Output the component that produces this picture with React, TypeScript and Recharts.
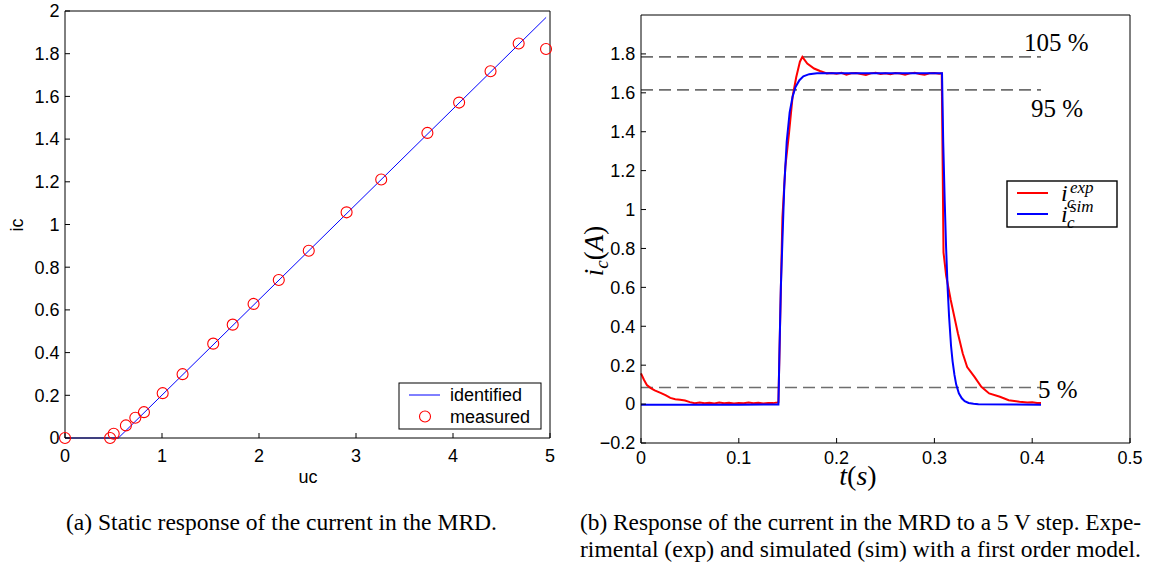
import React from 'react';
import { ComposedChart, Line, Scatter, XAxis, YAxis, ReferenceLine } from 'recharts';

// ---------- (a) static response ----------
const ucMeasured = [0, 0.465, 0.502, 0.628, 0.725, 0.814, 1.007, 1.212, 1.528, 1.729, 1.944, 2.204, 2.513, 2.903, 3.26, 3.736, 4.063, 4.387, 4.677, 4.959];
const icMeasured = [0, 0, 0.02, 0.059, 0.095, 0.121, 0.21, 0.299, 0.442, 0.531, 0.628, 0.74, 0.877, 1.057, 1.211, 1.429, 1.571, 1.718, 1.848, 1.822];
const ucIdentified = [0, 0.55, 4.96];
const icIdentified = [0, 0, 1.97];
const staticXTicks = [0, 1, 2, 3, 4, 5];
const staticYTicks = [0, 0.2, 0.4, 0.6, 0.8, 1, 1.2, 1.4, 1.6, 1.8, 2];

// ---------- (b) step response ----------
const tExp = [
  0, 0.003, 0.006, 0.01, 0.014, 0.02, 0.025, 0.03, 0.035, 0.04, 0.045, 0.05, 0.055, 0.06, 0.065, 0.07,
  0.075, 0.08, 0.085, 0.09, 0.095, 0.1, 0.105, 0.11, 0.115, 0.12, 0.125, 0.13, 0.135, 0.1395, 0.1405,
  0.142, 0.1446, 0.1476, 0.1513, 0.155, 0.1587, 0.1625, 0.165, 0.17, 0.177, 0.183, 0.19,
  0.195, 0.2, 0.205, 0.21, 0.215, 0.22, 0.225, 0.23, 0.235, 0.24, 0.245, 0.25, 0.255, 0.26, 0.265,
  0.27, 0.275, 0.28, 0.285, 0.29, 0.295, 0.3, 0.305, 0.3075,
  0.3085, 0.3093, 0.312, 0.3167, 0.324, 0.329, 0.3335, 0.341, 0.348, 0.356, 0.367, 0.376, 0.387,
  0.395, 0.4, 0.405, 0.409,
];
const iExp = [
  0.158, 0.125, 0.098, 0.082, 0.07, 0.058, 0.046, 0.032, 0.025, 0.022, 0.018, 0.01, 0.005, 0.008, 0.004, 0.007,
  0.003, 0.008, 0.004, 0.007, 0.003, 0.006, 0.004, 0.008, 0.004, 0.007, 0.003, 0.006, 0.005, 0.008, 0.01,
  0.36, 0.96, 1.22, 1.39, 1.58, 1.68, 1.76, 1.785, 1.75, 1.725, 1.712, 1.7,
  1.702, 1.698, 1.703, 1.693, 1.7, 1.702, 1.697, 1.692, 1.7, 1.703, 1.697, 1.7, 1.695, 1.702, 1.699,
  1.693, 1.7, 1.703, 1.697, 1.693, 1.7, 1.702, 1.698, 1.7,
  1.2, 0.78, 0.66, 0.535, 0.364, 0.26, 0.19, 0.14, 0.089, 0.055, 0.038, 0.02, 0.012,
  0.008, 0.01, 0.006, 0.005,
];
const tSim = [
  0, 0.05, 0.1, 0.1405, 0.1415, 0.143, 0.145, 0.1465, 0.149, 0.152, 0.155, 0.158, 0.162, 0.166, 0.172, 0.18,
  0.25, 0.3078, 0.309, 0.3105, 0.312, 0.3135, 0.315, 0.317, 0.3186, 0.3205, 0.3223, 0.325, 0.328, 0.331,
  0.335, 0.34, 0.345, 0.409,
];
const iSim = [
  -0.003, -0.003, -0.003, -0.002, 0.25, 0.6, 0.9, 1.12, 1.35, 1.5, 1.58, 1.63, 1.665, 1.685, 1.696, 1.7,
  1.7, 1.7, 1.35, 1.05, 0.8, 0.6, 0.45, 0.3, 0.22, 0.15, 0.1, 0.055, 0.03, 0.015,
  0.006, 0.002, -0.001, -0.003,
];
const stepXTicks = [0, 0.1, 0.2, 0.3, 0.4, 0.5];
const stepYTicks = [-0.2, 0, 0.2, 0.4, 0.6, 0.8, 1, 1.2, 1.4, 1.6, 1.8];
const levelValues = [1.785, 1.615, 0.085];
const levelLabels = ['105 %', '95 %', '5 %'];
const levelEnd = 0.409;

const captionA = '(a)  Static response of the current in the MRD.';
const captionB1 = '(b)  Response of the current in the MRD to a 5 V step. Expe-';
const captionB2 = 'rimental (exp) and simulated (sim) with a first order model.';

const measuredData = ucMeasured.map((x, i) => ({ x, y: icMeasured[i] }));
const identifiedData = ucIdentified.map((x, i) => ({ x, y: icIdentified[i] }));
const expData = tExp.map((x, i) => ({ x, y: iExp[i] }));
const simData = tSim.map((x, i) => ({ x, y: iSim[i] }));

const sans = 'Liberation Sans, Arial, Helvetica, sans-serif';
const serif = 'Liberation Serif, Times New Roman, serif';
const tickStyle = { fill: '#000', fontSize: 18, fontFamily: sans };
const fmt = (v: number) => (v < 0 ? '\u2212' + String(-v) : String(v));

const Circle = (props: any) => (
  <circle cx={props.cx} cy={props.cy} r={5.5} stroke="#ff0000" strokeWidth={1.1} fill="none" />
);

function StaticChart() {
  return (
    <ComposedChart width={570} height={500} margin={{ top: 11, right: 20, bottom: 22, left: 0 }}>
      <XAxis dataKey="x" type="number" domain={[0, 5]} ticks={staticXTicks} interval={0}
        tickSize={-5} tickMargin={16} stroke="#000" tick={tickStyle} height={40} tickFormatter={fmt} />
      <XAxis xAxisId="top" orientation="top" mirror dataKey="x" type="number" domain={[0, 5]} ticks={staticXTicks}
        interval={0} tickSize={5} stroke="#000" tick={false} height={1} />
      <YAxis type="number" domain={[0, 2]} ticks={staticYTicks} interval={0} tickSize={-5} tickMargin={10.5}
        stroke="#000" tick={tickStyle} width={65} tickFormatter={fmt} />
      <YAxis yAxisId="right" orientation="right" mirror type="number" domain={[0, 2]} ticks={staticYTicks}
        interval={0} tickSize={5} stroke="#000" tick={false} width={1} />
      <Line data={identifiedData} dataKey="y" type="linear" stroke="#0000ff" strokeWidth={1}
        dot={false} isAnimationActive={false} />
      <Scatter data={measuredData} dataKey="y" shape={Circle} isAnimationActive={false} />
    </ComposedChart>
  );
}

function StepChart() {
  return (
    <ComposedChart width={569} height={500} margin={{ top: 15, right: 19, bottom: 17, left: 0 }}>
      <XAxis dataKey="x" type="number" domain={[0, 0.5]} ticks={stepXTicks} interval={0}
        tickSize={-5} tickMargin={13} stroke="#000" tick={tickStyle} height={40} tickFormatter={fmt} />
      <XAxis xAxisId="top" orientation="top" mirror dataKey="x" type="number" domain={[0, 0.5]} ticks={stepXTicks}
        interval={0} tickSize={5} stroke="#000" tick={false} height={1} />
      <YAxis type="number" domain={[-0.2, 2]} ticks={stepYTicks} interval={0} tickSize={-5} tickMargin={10.8}
        stroke="#000" tick={tickStyle} width={61} tickFormatter={fmt} />
      <YAxis yAxisId="right" orientation="right" mirror type="number" domain={[-0.2, 2]} ticks={stepYTicks}
        interval={0} tickSize={5} stroke="#000" tick={false} width={1} />
      {levelValues.map((v) => (
        <ReferenceLine key={v} segment={[{ x: 0, y: v }, { x: levelEnd, y: v }]} stroke="#6e6e6e"
          strokeWidth={1.6} strokeDasharray="12 6" />
      ))}
      <Line data={expData} dataKey="y" type="linear" stroke="#ff0000" strokeWidth={2}
        dot={false} isAnimationActive={false} />
      <Line data={simData} dataKey="y" type="linear" stroke="#0000ff" strokeWidth={2}
        dot={false} isAnimationActive={false} />
    </ComposedChart>
  );
}

function Overlay() {
  const labelPos = [
    { x: 1024, y: 51 },
    { x: 1031, y: 116.5 },
    { x: 1038, y: 398 },
  ];
  return (
    <svg width={1149} height={567} style={{ position: 'absolute', left: 0, top: 0, pointerEvents: 'none' }}>
      {/* left chart axis titles */}
      <text x={308} y={483} textAnchor="middle" fontFamily={sans} fontSize={18} fill="#000">uc</text>
      <text transform="translate(23,225) rotate(-90)" textAnchor="middle" fontFamily={sans} fontSize={18} fill="#000">ic</text>
      {/* left legend */}
      <rect x={399} y={383} width={142} height={46} fill="#fff" stroke="#000" strokeWidth={1} />
      <line x1={409} y1={395} x2={440} y2={395} stroke="#0000ff" strokeWidth={1} />
      <text x={450} y={401} fontFamily={sans} fontSize={18} fill="#000">identified</text>
      <circle cx={425} cy={416.5} r={5.5} stroke="#ff0000" strokeWidth={1.1} fill="none" />
      <text x={450} y={423} fontFamily={sans} fontSize={18} fill="#000">measured</text>

      {/* right chart axis titles */}
      <text x={858} y={485} textAnchor="middle" fontFamily={serif} fontSize={28} fill="#000">
        <tspan fontStyle="italic">t</tspan>(<tspan fontStyle="italic">s</tspan>)
      </text>
      <text transform="translate(603,251) rotate(-90)" textAnchor="middle" fontFamily={serif} fontSize={27} fill="#000">
        <tspan fontStyle="italic">i</tspan>
        <tspan fontStyle="italic" fontSize={19} dy={5}>c</tspan>
        <tspan dy={-5}>(</tspan>
        <tspan fontStyle="italic">A</tspan>)
      </text>
      {/* level annotations */}
      {levelLabels.map((s, i) => (
        <text key={s} x={labelPos[i].x} y={labelPos[i].y} fontFamily={serif} fontSize={25} fill="#000">{s}</text>
      ))}
      {/* right legend */}
      <rect x={1007} y={181} width={110} height={46} fill="#fff" stroke="#000" strokeWidth={1.4} />
      <line x1={1017} y1={193} x2={1048} y2={193} stroke="#ff0000" strokeWidth={2} />
      <line x1={1017} y1={214} x2={1048} y2={214} stroke="#0000ff" strokeWidth={2} />
      <text x={1061} y={201} fontFamily={serif} fontSize={24} fontStyle="italic" fill="#000">i</text>
      <text x={1070} y={193} fontFamily={serif} fontSize={17} fontStyle="italic" fill="#000">exp</text>
      <text x={1067} y={208} fontFamily={serif} fontSize={17} fontStyle="italic" fill="#000">c</text>
      <text x={1061} y={222} fontFamily={serif} fontSize={24} fontStyle="italic" fill="#000">i</text>
      <text x={1070} y={212} fontFamily={serif} fontSize={17} fontStyle="italic" fill="#000">sim</text>
      <text x={1067} y={228} fontFamily={serif} fontSize={17} fontStyle="italic" fill="#000">c</text>

      {/* captions */}
      <text x={66} y={530} fontFamily={serif} fontSize={23} fill="#000" textLength={431} lengthAdjust="spacingAndGlyphs">{captionA}</text>
      <text x={580} y={530} fontFamily={serif} fontSize={23} fill="#000" textLength={561} lengthAdjust="spacingAndGlyphs">{captionB1}</text>
      <text x={580} y={557} fontFamily={serif} fontSize={23} fill="#000" textLength={561} lengthAdjust="spacingAndGlyphs">{captionB2}</text>
    </svg>
  );
}

export default function App() {
  return (
    <div style={{ position: 'absolute', left: 0, top: 0, width: 1149, height: 567, background: '#fff', overflow: 'hidden' }}>
      <div style={{ position: 'absolute', left: 0, top: 0 }}>
        <StaticChart />
      </div>
      <div style={{ position: 'absolute', left: 580, top: 0 }}>
        <StepChart />
      </div>
      <Overlay />
    </div>
  );
}
